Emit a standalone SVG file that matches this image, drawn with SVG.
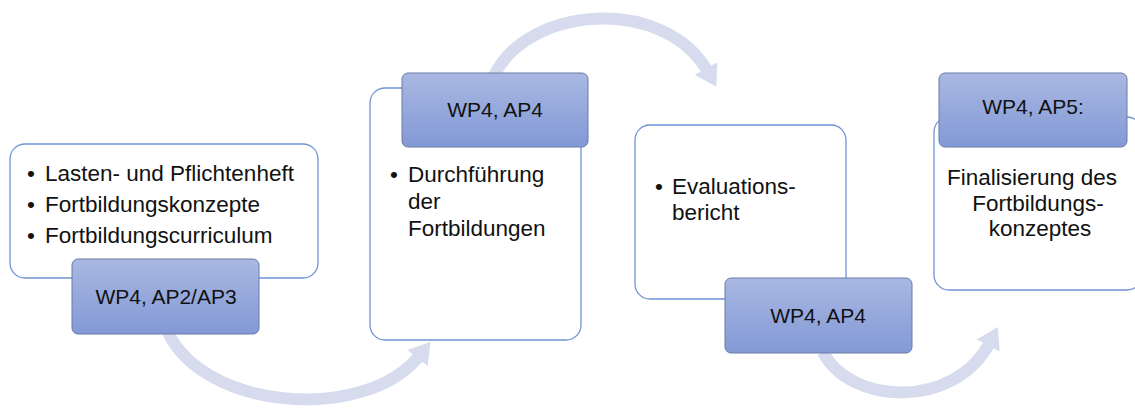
<svg xmlns="http://www.w3.org/2000/svg" width="1135" height="412" viewBox="0 0 1135 412">
<defs>
<linearGradient id="bg" x1="0" y1="0" x2="0" y2="1">
<stop offset="0" stop-color="#a9b8e2"/>
<stop offset="1" stop-color="#8399d6"/>
</linearGradient>
<marker id="ah" markerUnits="userSpaceOnUse" markerWidth="28" markerHeight="30" refX="4" refY="15" orient="auto">
<path d="M0,2 L21,15 L0,28 Z" fill="#d6dcee"/>
</marker>
</defs>
<style>
.arc{fill:none;stroke:#d6dcee;stroke-width:12;marker-end:url(#ah)}
.wb{fill:#fff;stroke:#6f94d4;stroke-width:1.3}
.bb{fill:url(#bg);stroke:#6a7aa6;stroke-width:1}
text{font-family:"Liberation Sans",Arial,sans-serif;font-size:22.5px;fill:#111}
.l{font-size:21px}
.c{text-anchor:middle}
</style>
<g id="connectors">
<path class="arc" d="M165,325 C195,410 365,425 420,355"/>
<path class="arc" d="M493,78 C525,5 665,-5 708,72"/>
<path class="arc" d="M823,352 C850,405 955,410 990,342"/>
</g>
<g id="node1">
<rect class="wb" x="10" y="144" width="308" height="134" rx="15"/>
<text x="27" y="181">•</text><text x="45" y="181">Lasten- und Pflichtenheft</text>
<text x="27" y="212">•</text><text x="45" y="212">Fortbildungskonzepte</text>
<text x="27" y="243">•</text><text x="45" y="243">Fortbildungscurriculum</text>
</g>
<g id="label1">
<rect class="bb" x="72" y="259" width="187" height="75" rx="6"/>
<text class="c l" x="166" y="304">WP4, AP2/AP3</text>
</g>
<g id="node2">
<rect class="wb" x="370" y="88" width="211" height="252" rx="15"/>
<text x="390" y="182">•</text><text x="408" y="182">Durchführung</text>
<text x="408" y="209">der</text>
<text x="408" y="236">Fortbildungen</text>
</g>
<g id="label2">
<rect class="bb" x="402" y="73" width="186" height="74" rx="6"/>
<text class="c l" x="495" y="117">WP4, AP4</text>
</g>
<g id="node3">
<rect class="wb" x="635" y="125" width="211" height="174" rx="15"/>
<text x="655" y="194">•</text><text x="672" y="194">Evaluations-</text>
<text x="672" y="220">bericht</text>
</g>
<g id="label3">
<rect class="bb" x="725" y="278" width="187" height="75" rx="6"/>
<text class="c l" x="818" y="323">WP4, AP4</text>
</g>
<g id="node4">
<rect class="wb" x="934" y="117" width="208" height="173" rx="15"/>
<text class="c" x="1032" y="185">Finalisierung des</text>
<text class="c" x="1038" y="211">Fortbildungs-</text>
<text class="c" x="1040" y="236">konzeptes</text>
</g>
<g id="label4">
<rect class="bb" x="939" y="73" width="188" height="74" rx="6"/>
<text class="c l" x="1033" y="114">WP4, AP5:</text>
</g>
</svg>
